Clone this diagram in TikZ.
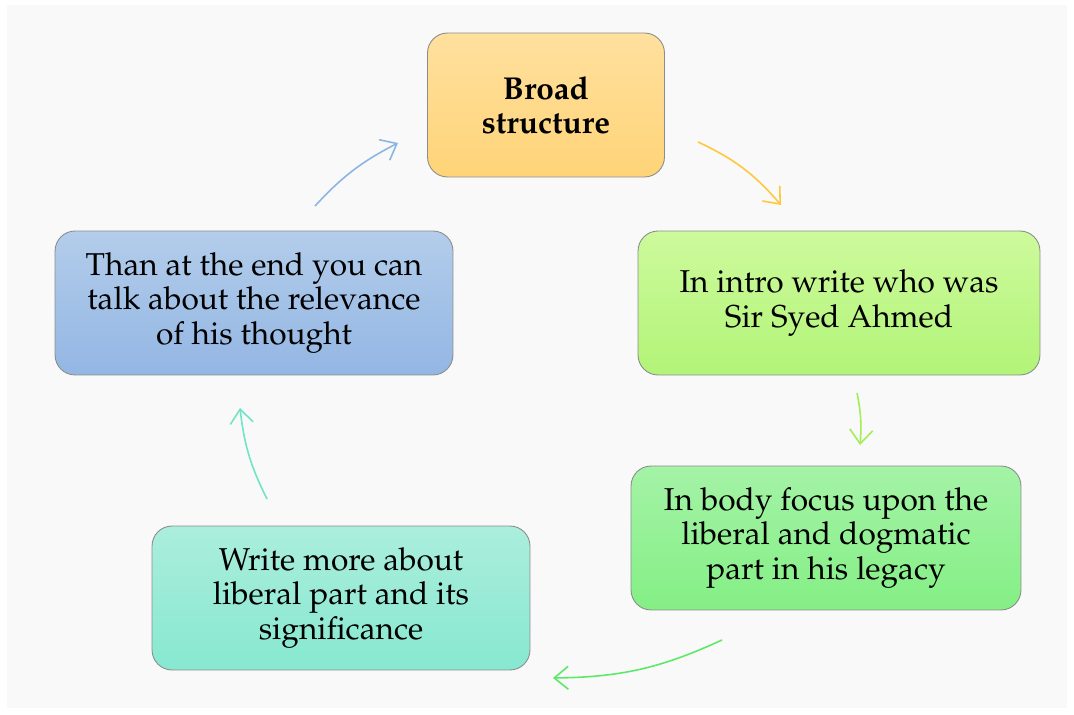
\documentclass[tikz,border=0pt]{standalone}
\usepackage[T1]{fontenc}
\usepackage{mathpazo}
\usetikzlibrary{arrows.meta}
\definecolor{bgcol}{HTML}{F9F9F9}
\definecolor{edgecol}{HTML}{8C8C8C}
\definecolor{orangeTop}{HTML}{FFE09E}
\definecolor{orangeBot}{HTML}{FFD478}
\definecolor{limeTop}{HTML}{CDFA9C}
\definecolor{limeBot}{HTML}{B2F478}
\definecolor{greenTop}{HTML}{A4F3A6}
\definecolor{greenBot}{HTML}{84EF85}
\definecolor{tealTop}{HTML}{ABEEDD}
\definecolor{tealBot}{HTML}{87E8D0}
\definecolor{blueTop}{HTML}{B3CDEB}
\definecolor{blueBot}{HTML}{93B6E3}
\definecolor{arrYellow}{HTML}{FFC83C}
\definecolor{arrLime}{HTML}{A2EE55}
\definecolor{arrGreen}{HTML}{5EE86A}
\definecolor{arrTeal}{HTML}{6FE5C5}
\definecolor{arrBlue}{HTML}{8BB5E5}
\begin{document}
\begin{tikzpicture}[x=0.02cm, y=-0.02cm,
    stepbox/.style={draw=edgecol, line width=0.5pt, rounded corners=0.4cm,
      minimum height=2.88cm, align=center, font=\fontsize{18}{19.4}\selectfont},
    cyc/.style={-{Straight Barb[length=2.8mm, width=4.6mm]}, line width=0.9pt}]
    \useasboundingbox (0,0) rectangle (1074,715);
    \coordinate (c1) at (546,105);
    \coordinate (c2) at (839,303);
    \coordinate (c3) at (826,538);
    \coordinate (c4) at (341,598);
    \coordinate (c5) at (254,303);

    % background
    \fill[bgcol] (7,5) rectangle (1067,708);

    % boxes
    \node[stepbox, minimum width=4.74cm, top color=orangeTop, bottom color=orangeBot,
      font=\fontsize{18}{19.4}\selectfont\bfseries] (b1) at (c1) {Broad\\structure};
    \node[stepbox, minimum width=8.04cm, top color=limeTop, bottom color=limeBot] (b2) at (c2)
      {In intro write who was\\Sir Syed Ahmed};
    \node[stepbox, minimum width=7.8cm, top color=greenTop, bottom color=greenBot] (b3) at (c3)
      {In body focus upon the\\liberal and dogmatic\\part in his legacy};
    \node[stepbox, minimum width=7.56cm, top color=tealTop, bottom color=tealBot] (b4) at (c4)
      {Write more about\\liberal part and its\\significance};
    \node[stepbox, minimum width=7.96cm, top color=blueTop, bottom color=blueBot] (b5) at (c5)
      {Than at the end you can\\talk about the relevance\\of his thought};

    % cycle arrows
    \coordinate (a1s) at (698,142);
    \coordinate (a1e) at (781,205);
    \coordinate (a2s) at (857,393);
    \coordinate (a2e) at (860,445);
    \coordinate (a3s) at (722,640);
    \coordinate (a3e) at (553,678);
    \coordinate (a4s) at (267,499);
    \coordinate (a4e) at (240,408);
    \coordinate (a5s) at (315,206);
    \coordinate (a5e) at (398,143);
    \draw[cyc, arrYellow] (a1s) to[bend left=12] (a1e);
    \draw[cyc, arrLime] (a2s) to[bend left=8] (a2e);
    \draw[cyc, arrGreen] (a3s) to[bend left=12] (a3e);
    \draw[cyc, arrTeal] (a4s) to[bend left=10] (a4e);
    \draw[cyc, arrBlue] (a5s) to[bend left=10] (a5e);
\end{tikzpicture}
\end{document}
